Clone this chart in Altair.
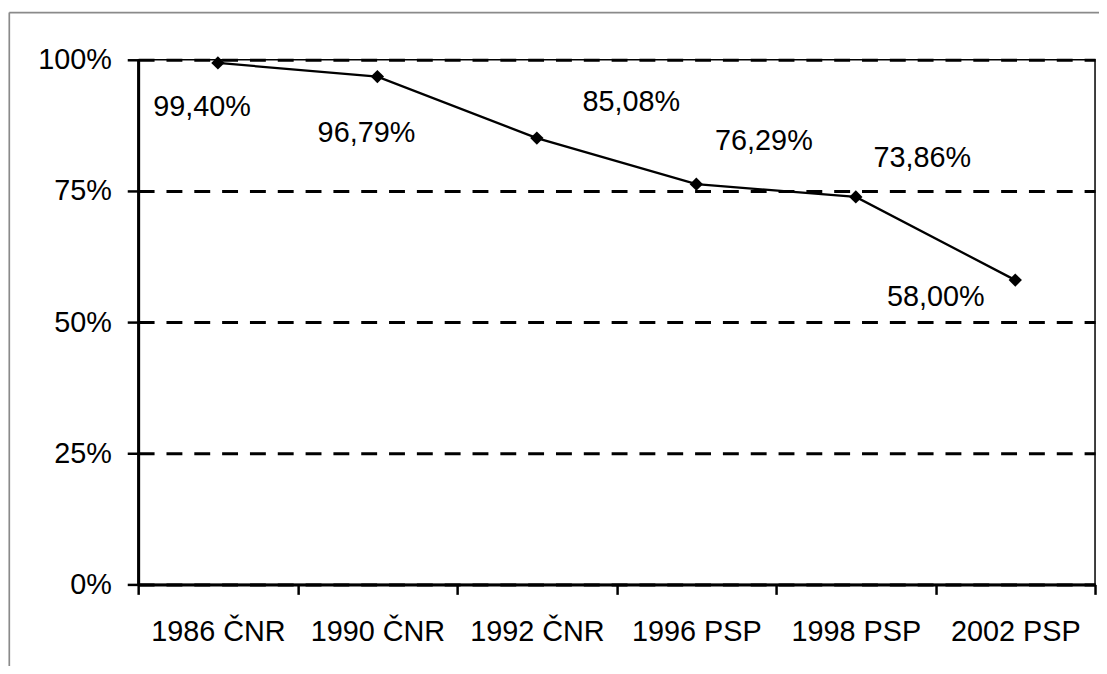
import altair as alt
import pandas as pd

categories = ["1986 ČNR", "1990 ČNR", "1992 ČNR", "1996 PSP", "1998 PSP", "2002 PSP"]
values = [99.40, 96.79, 85.08, 76.29, 73.86, 58.00]
y_ticks = [0, 25, 50, 75, 100]

labels = [f"{v:.2f}".replace(".", ",") + "%" for v in values]
df = pd.DataFrame({"cat": categories, "val": values, "label": labels})

# label offsets (style: placement of each data label, in px)
label_offsets = [(-16, 44), (-11, 57), (95, -36), (68, -43), (67, -39), (-80, 17)]

FONT = "Liberation Sans"
FS = 29
L, T, R, B = 131, 50, 4, 80
W, H = 963, 528

x_enc = alt.X("cat:N", sort=categories, title=None,
              scale=alt.Scale(type="band", paddingInner=0, paddingOuter=0),
              axis=alt.Axis(tickBand="extent", labelAngle=0, labelFont=FONT, labelFontSize=FS,
                            labelColor="#000", domainColor="#000", domainWidth=3,
                            tickColor="#000", tickWidth=2.5, tickSize=10, labelPadding=23,
                            grid=False))
y_enc = alt.Y("val:Q", title=None,
              scale=alt.Scale(domain=[0, 100], nice=False, zero=True),
              axis=alt.Axis(values=y_ticks, labelExpr="datum.value + '%'", labelFont=FONT,
                            labelFontSize=FS, labelColor="#000", domainColor="#000",
                            domainWidth=3, tickColor="#000", tickWidth=2.5, tickSize=11,
                            labelPadding=16, grid=True, gridColor="#000", gridWidth=3,
                            gridDash=[16, 12]))

base = alt.Chart(df)
line = base.mark_line(color="#000", strokeWidth=2.3).encode(x=x_enc, y=y_enc)
pts = base.mark_point(shape="diamond", filled=True, color="#000", size=180, opacity=1).encode(
    x="cat:N", y="val:Q")

texts = []
for cat, (dx, dy) in zip(categories, label_offsets):
    texts.append(
        base.transform_filter(alt.datum.cat == cat)
        .mark_text(font=FONT, fontSize=FS, color="#000", dx=dx, dy=dy,
                   align="center", baseline="middle")
        .encode(x="cat:N", y="val:Q", text="label:N")
    )

frame_data = alt.Data(values=[{"a": 1}])
frame_top = alt.Chart(frame_data).mark_rule(color="#8a8a8a", strokeWidth=1.7).encode(
    x=alt.value(-129.7), x2=alt.value(W + 200), y=alt.value(-47.5))
frame_left = alt.Chart(frame_data).mark_rule(color="#8a8a8a", strokeWidth=1.7).encode(
    x=alt.value(-129.7), y=alt.value(-47.5), y2=alt.value(H + 300))

chart = alt.layer(frame_top, frame_left, line, pts, *texts).properties(
    width=W, height=H,
    autosize=alt.AutoSizeParams(type="none"),
    padding={"left": L, "top": T, "right": R, "bottom": B},
    background="white",
).configure_view(stroke="#000", strokeWidth=1.5)

chart.save("out.html", embed_options={"renderer": "svg", "actions": False})
